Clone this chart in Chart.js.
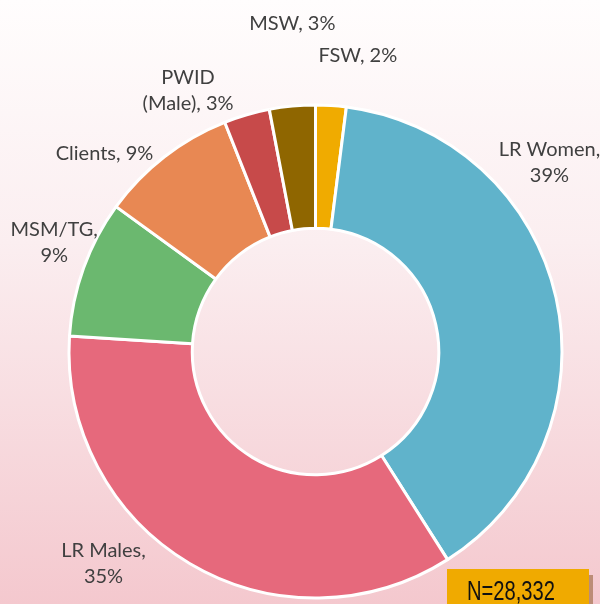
<!DOCTYPE html>
<html>
<head>
<meta charset="utf-8">
<script src="https://cdn.jsdelivr.net/npm/chart.js@4.4.0/dist/chart.umd.min.js"></script>
<style>
  html, body { margin: 0; padding: 0; }
  #wrap {
    position: relative;
    width: 600px;
    height: 604px;
    background: linear-gradient(to bottom, #fffdfd 0%, #fbeef0 40%, #f4c8ce 100%);
  }
</style>
</head>
<body>
<div id="wrap"><canvas id="donut"></canvas></div>
<script>
// --- dados ---
const categorias = ['FSW', 'LR Women', 'LR Males', 'MSM/TG', 'Clients', 'PWID (Male)', 'MSW'];
const percentuais = [2, 39, 35, 9, 9, 3, 3];
const cores = ['#f0ab00', '#60b3cb', '#e6697c', '#6bb86f', '#e88853', '#c74a4a', '#8f6600'];
const totalN = '28,332';

// posição de cada rótulo em relação ao centro (em unidades do raio externo)
// quebra: 'comma' -> quebra depois da vírgula, 'space' -> quebra no primeiro espaço
const layoutRotulos = [
    { dx: 0.172, dy: -1.20, quebra: null },      // FSW
    { dx: 0.949, dy: -0.768, quebra: 'comma' },  // LR Women
    { dx: -0.86, dy: 0.862, quebra: 'comma' },   // LR Males
    { dx: -1.06, dy: -0.444, quebra: 'comma' },  // MSM/TG
    { dx: -0.856, dy: -0.805, quebra: null },    // Clients
    { dx: -0.517, dy: -1.06, quebra: 'space' },  // PWID
    { dx: -0.094, dy: -1.33, quebra: null }      // MSW
];

function montarLinhas(nome, valor, quebra) {
    const texto = nome + ', ' + valor + '%';
    if (quebra === 'comma') return [nome + ',', valor + '%'];
    if (quebra === 'space') {
        const i = texto.indexOf(' ');
        return [texto.slice(0, i), texto.slice(i + 1)];
    }
    return [texto];
}

const rotulosFatias = {
    id: 'rotulosFatias',
    afterDatasetsDraw(chart, args, opts) {
        const meta = chart.getDatasetMeta(0);
        const ctx = chart.ctx;
        ctx.save();
        ctx.font = opts.font;
        ctx.fillStyle = opts.color;
        ctx.textAlign = 'center';
        ctx.textBaseline = 'middle';
        meta.data.forEach((arc, i) => {
            const p = arc.getProps(['x', 'y', 'outerRadius'], true);
            const lay = layoutRotulos[i];
            const linhas = montarLinhas(categorias[i], percentuais[i], lay.quebra);
            const cx = p.x + lay.dx * p.outerRadius;
            const cy = p.y + lay.dy * p.outerRadius;
            const topo = cy - (linhas.length - 1) * opts.lineHeight / 2;
            linhas.forEach((l, k) => ctx.fillText(l, cx, topo + k * opts.lineHeight));
        });
        ctx.restore();
    }
};

// caixa "N=..." no canto inferior direito
const caixaTotal = {
    id: 'caixaTotal',
    afterDraw(chart) {
        const ctx = chart.ctx;
        ctx.save();
        ctx.fillStyle = 'rgba(150, 100, 60, 0.6)';
        ctx.fillRect(451, 575, 142, 40);
        ctx.fillStyle = '#f0aa00';
        ctx.fillRect(447, 569, 142, 40);
        ctx.fillStyle = '#111';
        ctx.font = '27px "Liberation Sans Narrow", "Liberation Sans", sans-serif';
        ctx.textAlign = 'center';
        ctx.textBaseline = 'middle';
        ctx.fillText('N=' + totalN, 511, 593, 88);
        ctx.restore();
    }
};

let graficoRosca;

function inicializarGrafico() {
    const ctx = document.getElementById('donut').getContext('2d');
    graficoRosca = new Chart(ctx, {
        type: 'doughnut',
        data: {
            labels: categorias,
            datasets: [{
                data: percentuais,
                backgroundColor: cores,
                borderColor: '#ffffff',
                borderWidth: 3
            }]
        },
        options: {
            responsive: true,
            maintainAspectRatio: false,
            animation: false,
            cutout: '50%',
            rotation: 0,
            layout: { padding: { left: 67, right: 36, top: 103.5, bottom: 4.5 } },
            plugins: {
                legend: { display: false },
                tooltip: { enabled: false },
                rotulosFatias: {
                    font: '20px Lato, "Open Sans", sans-serif',
                    color: '#404040',
                    lineHeight: 26
                }
            }
        },
        plugins: [rotulosFatias, caixaTotal]
    });
}

document.addEventListener('DOMContentLoaded', inicializarGrafico);
</script>
</body>
</html>
